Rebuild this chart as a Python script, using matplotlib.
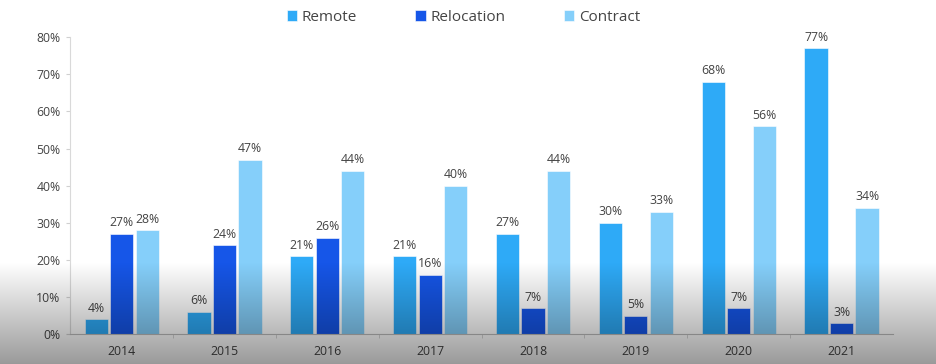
import numpy as np
import matplotlib
matplotlib.use("Agg")
import matplotlib.pyplot as plt
from matplotlib.ticker import FuncFormatter

# data
years = ["2014", "2015", "2016", "2017", "2018", "2019", "2020", "2021"]
remote = [4, 6, 21, 21, 27, 30, 68, 77]
relocation = [27, 24, 26, 16, 7, 5, 7, 3]
contract = [28, 47, 44, 40, 44, 33, 56, 34]

series = [
    ("Remote", remote, "#2eaaf7"),
    ("Relocation", relocation, "#1656e8"),
    ("Contract", contract, "#85cffa"),
]

plt.rcParams["font.family"] = ["Open Sans", "DejaVu Sans"]
text_color = "#444444"

fig = plt.figure(figsize=(9.36, 3.64), dpi=100)
ax = fig.add_axes([0.075, 0.082, 0.879, 0.816])

x = np.arange(len(years))
width = 0.225
offset = 0.248

for i, (name, vals, color) in enumerate(series):
    pos = x + (i - 1) * offset
    ax.bar(pos, np.array(vals) / 100, width, color=color, label=name,
           edgecolor="white", linewidth=0.4, zorder=2)
    for p, v in zip(pos, vals):
        ax.text(p, v / 100 + 0.012, f"{v}%", ha="center", va="bottom",
                fontsize=8.8, color=text_color)

ax.set_xlim(-0.5, len(years) - 0.5)
ax.set_ylim(0, 0.8)
ax.set_yticks(np.arange(0, 0.81, 0.1))
ax.yaxis.set_major_formatter(FuncFormatter(lambda v, _: f"{v*100:.0f}%"))
ax.set_xticks(x)
ax.set_xticklabels(years)
ax.set_xticks(np.arange(0.5, len(years) - 0.5, 1), minor=True)
ax.tick_params(axis="x", which="major", length=0, pad=8, labelsize=8.8, labelcolor=text_color)
ax.tick_params(axis="x", which="minor", length=3, color="#d0d0d0")
ax.tick_params(axis="y", length=3, color="#d0d0d0", labelsize=8.8, labelcolor=text_color, pad=4)

for side in ["top", "right"]:
    ax.spines[side].set_visible(False)
ax.spines["left"].set_color("#d9d9d9")
ax.spines["bottom"].set_color("#bdbdbd")

fig.legend(loc="upper center", bbox_to_anchor=(0.495, 1.01), ncol=3, frameon=False,
           fontsize=11, handlelength=0.7, handleheight=0.7, handletextpad=0.3,
           columnspacing=3.8, labelcolor=text_color)

# dark fade at the bottom of the screenshot
ov = fig.add_axes([0, 0, 1, 0.28], zorder=10)
ov.axis("off")
h = 100
grad = np.zeros((h, 2, 4))
grad[..., 3] = np.linspace(0.40, 0, h)[:, None].repeat(2, axis=1)
ov.imshow(grad, aspect="auto", extent=[0, 1, 0, 1], origin="lower")
ov.set_xlim(0, 1)
ov.set_ylim(0, 1)

fig.savefig("out.png", dpi=100)
